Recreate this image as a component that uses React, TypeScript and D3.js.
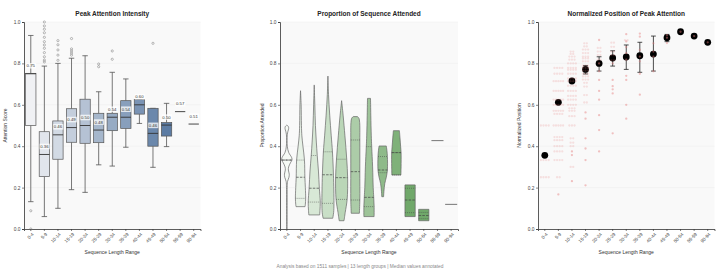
import React, { useEffect, useRef } from 'react';
import * as d3 from 'd3';

const groups = ['0-4', '5-9', '10-14', '15-19', '20-24', '25-29', '30-34', '35-39', '40-44', '45-49', '50-54', '55-59', '90-94'];
const yTicks = [0, 0.2, 0.4, 0.6, 0.8, 1.0];

// Peak attention intensity (box plot stats)
const boxQ1 = [0.50, 0.253, 0.337, 0.419, 0.414, 0.417, 0.475, 0.486, 0.555, 0.40, 0.449, 0.567, 0.507];
const boxMed = [0.75, 0.36, 0.455, 0.49, 0.50, 0.478, 0.54, 0.54, 0.60, 0.462, 0.502, 0.567, 0.507];
const boxQ3 = [0.752, 0.47, 0.522, 0.581, 0.627, 0.559, 0.559, 0.62, 0.625, 0.583, 0.514, 0.567, 0.507];
const whiskLo = [0.132, 0.06, 0.10, 0.19, 0.177, 0.31, 0.304, 0.395, 0.51, 0.298, 0.398, 0.567, 0.507];
const whiskHi = [0.935, 0.787, 0.80, 0.825, 0.837, 0.663, 0.757, 0.725, 0.625, 0.583, 0.607, 0.567, 0.507];
const outliers = [
  [0.088, 0.0],
  [1.0, 0.981, 0.965, 0.948, 0.926, 0.905, 0.889, 0.873, 0.852, 0.832, 0.816, 0.807],
  [0.91, 0.89, 0.865, 0.84, 0.815],
  [0.92, 0.87, 0.86, 0.85, 0.84],
  [],
  [0.797, 0.784],
  [0.86, 0.82],
  [],
  [],
  [0.897],
  [],
  [],
  [],
];

// Proportion attended (violin profiles: [value, relative half width])
const violins: [number, number][][] = [
  [[0.502, 0], [0.495, 0.25], [0.485, 0.3], [0.472, 0.18], [0.455, 0.07], [0.40, 0.08], [0.37, 0.3], [0.345, 0.8], [0.333, 0.85], [0.32, 0.6], [0.30, 0.3], [0.285, 0.25], [0.265, 0.4], [0.25, 0.35], [0.23, 0.12], [0.20, 0.06], [0.10, 0.05], [0.0, 0.04]],
  [[0.668, 0], [0.60, 0.1], [0.50, 0.15], [0.45, 0.22], [0.40, 0.4], [0.333, 0.65], [0.25, 0.72], [0.20, 0.8], [0.148, 0.85], [0.12, 0.8], [0.108, 0.75]],
  [[0.696, 0], [0.60, 0.1], [0.50, 0.2], [0.42, 0.35], [0.355, 0.5], [0.28, 0.7], [0.197, 0.85], [0.13, 1.0], [0.09, 0.95], [0.068, 0.9]],
  [[0.739, 0], [0.65, 0.1], [0.55, 0.3], [0.45, 0.55], [0.373, 0.75], [0.26, 0.92], [0.124, 1.0], [0.08, 0.95], [0.052, 0.8]],
  [[0.62, 0], [0.55, 0.25], [0.45, 0.55], [0.337, 0.85], [0.248, 1.0], [0.143, 0.92], [0.08, 0.6], [0.04, 0.4]],
  [[0.543, 0.35], [0.535, 0.6], [0.515, 0.72], [0.43, 0.75], [0.28, 0.75], [0.14, 0.75], [0.076, 0.68]],
  [[0.631, 0.25], [0.55, 0.3], [0.45, 0.38], [0.398, 0.45], [0.30, 0.6], [0.20, 0.7], [0.156, 0.78], [0.111, 0.85], [0.06, 0.85]],
  [[0.401, 0.6], [0.38, 0.7], [0.35, 0.78], [0.285, 0.78], [0.25, 0.6], [0.22, 0.35], [0.18, 0.2], [0.156, 0.15]],
  [[0.475, 0.5], [0.44, 0.6], [0.40, 0.7], [0.369, 0.78], [0.30, 0.78], [0.261, 0.75]],
  [[0.213, 0.85], [0.06, 0.85]],
  [[0.095, 0.85], [0.04, 0.85]],
  [[0.427, 1.0]],
  [[0.119, 1.0]],
];
const violinQ1 = [0.333, 0.148, 0.13, 0.124, 0.143, 0.14, 0.108, 0.272, 0.261, 0.079, 0.05, null, null];
const violinMed = [0.333, 0.25, 0.197, 0.262, 0.248, 0.277, 0.153, 0.285, 0.369, 0.14, 0.065, null, null];
const violinQ3 = [0.333, 0.333, 0.355, 0.373, 0.337, 0.43, 0.398, 0.35, 0.369, 0.197, 0.08, null, null];

// Normalized position of peak attention
const posMean = [0.356, 0.612, 0.715, 0.771, 0.80, 0.826, 0.831, 0.837, 0.845, 0.924, 0.953, 0.932, 0.902];
const posErrLo = [null, 0.607, 0.711, 0.749, 0.763, 0.787, 0.771, 0.757, 0.763, 0.905, null, null, null];
const posErrHi = [null, 0.617, 0.719, 0.79, 0.832, 0.861, 0.889, 0.902, 0.932, 0.94, null, null, null];
// observed positions: [value, count]
const posPoints: [number, number][][] = [
  [[0.5, 4], [0.333, 4], [0.25, 4]],
  [[0.778, 4], [0.75, 4], [0.714, 5], [0.667, 5], [0.625, 5], [0.6, 5], [0.571, 5], [0.556, 4], [0.5, 5], [0.444, 4], [0.429, 4], [0.4, 4], [0.375, 4], [0.333, 4], [0.25, 2], [0.167, 1]],
  [[0.857, 2], [0.846, 2], [0.833, 3], [0.818, 3], [0.8, 4], [0.778, 4], [0.769, 4], [0.75, 4], [0.727, 4], [0.714, 4], [0.692, 4], [0.667, 4], [0.643, 4], [0.625, 4], [0.6, 4], [0.583, 3], [0.571, 3], [0.545, 3], [0.5, 3], [0.438, 2], [0.417, 2], [0.4, 2], [0.375, 1], [0.357, 1], [0.3, 2], [0.231, 1]],
  [[0.897, 2], [0.882, 2], [0.867, 3], [0.85, 3], [0.833, 3], [0.824, 3], [0.81, 3], [0.789, 3], [0.778, 3], [0.765, 3], [0.75, 3], [0.737, 3], [0.722, 3], [0.706, 2], [0.688, 2], [0.647, 2], [0.611, 2], [0.563, 1], [0.533, 1], [0.438, 1], [0.389, 1], [0.333, 1], [0.211, 1]],
  [[0.913, 1], [0.875, 2], [0.857, 2], [0.84, 2], [0.818, 2], [0.8, 1], [0.762, 1], [0.72, 1], [0.667, 1], [0.625, 1], [0.55, 1], [0.478, 1], [0.375, 1]],
  [[0.9, 2], [0.88, 2], [0.857, 2], [0.84, 2], [0.815, 2], [0.8, 1], [0.72, 1], [0.69, 1], [0.675, 1], [0.655, 1], [0.462, 1]],
  [[0.941, 1], [0.912, 2], [0.906, 1], [0.879, 1], [0.85, 1], [0.818, 1], [0.74, 1], [0.72, 1], [0.6, 1], [0.533, 1]],
  [[0.944, 1], [0.929, 1], [0.865, 1], [0.833, 1], [0.81, 1], [0.75, 1], [0.649, 1]],
  [[0.897, 1], [0.857, 1], [0.833, 1], [0.762, 1]],
  [[0.937, 1], [0.924, 1], [0.898, 1]],
  [[0.953, 1]],
  [[0.932, 1]],
  [[0.902, 1]],
];

const FONT = "'Liberation Sans', Arial, Helvetica, sans-serif";

export default function App() {
  const svgRef = useRef<SVGSVGElement>(null);

  useEffect(() => {
    if (!svgRef.current) return;
    const svg = d3.select(svgRef.current);
    svg.selectAll('*').remove();

    const W = 718, H = 271;
    const top = 22, bottom = 229;
    const y = d3.scaleLinear().domain([0, 1]).range([bottom, top]);

    svg.append('rect').attr('width', W).attr('height', H).attr('fill', '#fff');

    const panel = (x0: number, x1: number, title: string, yLabel: string, yLabelX: number) => {
      const x = d3.scaleBand<string>().domain(groups).range([x0, x1]);
      const g = svg.append('g');

      g.append('rect')
        .attr('x', x0).attr('y', top)
        .attr('width', x1 - x0).attr('height', bottom - top)
        .attr('fill', '#f9f9f9');

      g.selectAll('.grid')
        .data(yTicks.slice(1))
        .enter()
        .append('line')
        .attr('x1', x0).attr('x2', x1)
        .attr('y1', d => y(d)).attr('y2', d => y(d))
        .attr('stroke', '#ececec')
        .attr('stroke-width', 0.5);

      const yAxis = g.append('g')
        .attr('transform', `translate(${x0},0)`)
        .call(d3.axisLeft(y).tickValues(yTicks).tickFormat(d3.format('.1f')).tickSize(2).tickPadding(1.5));
      yAxis.selectAll('text').attr('font-size', 4.8).attr('fill', '#444').attr('font-family', FONT);

      const xAxis = g.append('g')
        .attr('transform', `translate(0,${bottom})`)
        .call(d3.axisBottom(x).tickSize(2));
      xAxis.selectAll('text')
        .attr('x', 0).attr('y', 0).attr('dy', '0.35em')
        .attr('transform', 'translate(2,4.5) rotate(-45)')
        .attr('text-anchor', 'end')
        .attr('font-size', 4.6).attr('fill', '#444').attr('font-family', FONT);

      [yAxis, xAxis].forEach(a => {
        a.select('.domain').attr('stroke', '#333').attr('stroke-width', 0.8);
        a.selectAll('.tick line').attr('stroke', '#333').attr('stroke-width', 0.6);
      });

      g.append('text')
        .attr('x', (x0 + x1) / 2).attr('y', 16)
        .attr('text-anchor', 'middle')
        .attr('font-family', FONT).attr('font-weight', 'bold')
        .attr('font-size', 6.5).attr('fill', '#222')
        .attr('opacity', 0.99)
        .text(title);

      g.append('text')
        .attr('x', (x0 + x1) / 2).attr('y', 254)
        .attr('text-anchor', 'middle')
        .attr('font-family', FONT).attr('font-size', 5).attr('fill', '#333')
        .text('Sequence Length Range');

      g.append('text')
        .attr('transform', `translate(${yLabelX},${(top + bottom) / 2}) rotate(-90)`)
        .attr('text-anchor', 'middle')
        .attr('font-family', FONT).attr('font-size', 5).attr('fill', '#333')
        .text(yLabel);

      return { g, x };
    };

    // Panel 1: box plot
    {
      const { g, x } = panel(24, 200.5, 'Peak Attention Intensity', 'Attention Score', 7.3);
      const bw = x.bandwidth();
      const boxW = bw * 0.76;
      const color = d3.interpolateRgb('#f0f1f4', '#5c7ca4');

      groups.forEach((grp, i) => {
        const cx = x(grp)! + bw / 2;
        const gg = g.append('g');

        // whiskers
        gg.append('line')
          .attr('x1', cx).attr('x2', cx)
          .attr('y1', y(whiskLo[i])).attr('y2', y(boxQ1[i]))
          .attr('stroke', '#555').attr('stroke-width', 0.8);
        gg.append('line')
          .attr('x1', cx).attr('x2', cx)
          .attr('y1', y(boxQ3[i])).attr('y2', y(whiskHi[i]))
          .attr('stroke', '#555').attr('stroke-width', 0.8);
        [whiskLo[i], whiskHi[i]].forEach(v => {
          if (boxQ1[i] === boxQ3[i]) return;
          gg.append('line')
            .attr('x1', cx - bw * 0.2).attr('x2', cx + bw * 0.2)
            .attr('y1', y(v)).attr('y2', y(v))
            .attr('stroke', '#555').attr('stroke-width', 0.8);
        });

        // box
        gg.append('rect')
          .attr('x', cx - boxW / 2)
          .attr('y', y(boxQ3[i]))
          .attr('width', boxW)
          .attr('height', Math.max(0, y(boxQ1[i]) - y(boxQ3[i])))
          .attr('fill', color(Math.min(1, i / 10)))
          .attr('stroke', '#555')
          .attr('stroke-width', 0.7);

        // median
        gg.append('line')
          .attr('x1', cx - boxW / 2).attr('x2', cx + boxW / 2)
          .attr('y1', y(boxMed[i])).attr('y2', y(boxMed[i]))
          .attr('stroke', '#333').attr('stroke-width', 0.9);

        // outliers
        gg.selectAll('.outlier')
          .data(outliers[i])
          .enter()
          .append('circle')
          .attr('cx', cx)
          .attr('cy', d => y(d))
          .attr('r', 1.1)
          .attr('fill', 'none')
          .attr('stroke', '#777')
          .attr('stroke-width', 0.5);

        // median label
        const ly = y(boxMed[i]) - 8;
        const bg = gg.append('rect');
        const t = gg.append('text')
          .attr('x', cx).attr('y', ly)
          .attr('dy', '0.35em')
          .attr('text-anchor', 'middle')
          .attr('font-family', FONT).attr('font-size', 4.3).attr('fill', '#333')
          .text(boxMed[i].toFixed(2));
        const bb = (t.node() as SVGTextElement).getBBox();
        bg.attr('x', bb.x - 0.6).attr('y', bb.y - 0.3)
          .attr('width', bb.width + 1.2).attr('height', bb.height + 0.6)
          .attr('fill', '#fff').attr('opacity', 0.75);
      });
    }

    // Panel 2: violins
    {
      const { g, x } = panel(280, 458, 'Proportion of Sequence Attended', 'Proportion Attended', 264);
      const bw = x.bandwidth();
      const wScale = d3.scaleLinear().domain([0, 1]).range([0, bw * 0.44]);
      const color = d3.interpolateRgb('#f6faf5', '#70a86a');

      const halfAt = (prof: [number, number][], v: number) => {
        for (let k = 0; k < prof.length - 1; k++) {
          const [va, wa] = prof[k];
          const [vb, wb] = prof[k + 1];
          if (v <= va && v >= vb) {
            const t = va === vb ? 0 : (va - v) / (va - vb);
            return wa + (wb - wa) * t;
          }
        }
        return prof[prof.length - 1][1];
      };

      groups.forEach((grp, i) => {
        const cx = x(grp)! + bw / 2;
        const prof = violins[i];

        if (prof.length === 1) {
          g.append('line')
            .attr('x1', cx - wScale(prof[0][1])).attr('x2', cx + wScale(prof[0][1]))
            .attr('y1', y(prof[0][0])).attr('y2', y(prof[0][0]))
            .attr('stroke', '#555').attr('stroke-width', 0.8);
          return;
        }

        const area = d3.area<[number, number]>()
          .y(d => y(d[0]))
          .x0(d => cx - wScale(d[1]))
          .x1(d => cx + wScale(d[1]))
          .curve(prof.length > 2 ? d3.curveCatmullRom : d3.curveLinear);

        g.append('path')
          .attr('d', area(prof)!)
          .attr('fill', color(Math.min(1, i / 9)))
          .attr('stroke', '#666')
          .attr('stroke-width', 0.7);

        const lines: [number | null, string, number][] = [
          [violinQ1[i], '1,1', 0.5],
          [violinMed[i], '2.5,1.2', 0.7],
          [violinQ3[i], '1,1', 0.5],
        ];
        lines.forEach(([v, dash, sw]) => {
          if (v == null) return;
          const hw = wScale(halfAt(prof, v));
          g.append('line')
            .attr('x1', cx - hw).attr('x2', cx + hw)
            .attr('y1', y(v)).attr('y2', y(v))
            .attr('stroke', '#444')
            .attr('stroke-width', sw)
            .attr('stroke-dasharray', dash);
        });
      });
    }

    // Panel 3: normalized position
    {
      const { g, x } = panel(538, 714.5, 'Normalized Position of Peak Attention', 'Normalized Position', 520.7);
      const bw = x.bandwidth();

      groups.forEach((grp, i) => {
        const cx = x(grp)! + bw / 2;
        const lo = posErrLo[i], hi = posErrHi[i];
        if (lo != null && hi != null) {
          g.append('line')
            .attr('x1', cx).attr('x2', cx)
            .attr('y1', y(lo)).attr('y2', y(hi))
            .attr('stroke', '#222').attr('stroke-width', 0.8);
          [lo, hi].forEach(v => {
            g.append('line')
              .attr('x1', cx - 2.4).attr('x2', cx + 2.4)
              .attr('y1', y(v)).attr('y2', y(v))
              .attr('stroke', '#222').attr('stroke-width', 0.8);
          });
        }
        g.append('circle')
          .attr('cx', cx).attr('cy', y(posMean[i]))
          .attr('r', 3.4)
          .attr('fill', '#000');
      });

      groups.forEach((grp, i) => {
        const cx = x(grp)! + bw / 2;
        posPoints[i].forEach(([v, n]) => {
          const spacing = n > 1 ? Math.min(2.6, (bw * 0.7) / (n - 1)) : 0;
          d3.range(n).forEach(k => {
            g.append('circle')
              .attr('cx', cx + (k - (n - 1) / 2) * spacing)
              .attr('cy', y(v))
              .attr('r', 1.15)
              .attr('fill', '#e57a7a')
              .attr('opacity', n > 1 ? 0.2 : 0.45);
          });
        });
      });
    }

    svg.append('text')
      .attr('x', 360).attr('y', 268)
      .attr('text-anchor', 'middle')
      .attr('font-family', FONT).attr('font-size', 4.8).attr('fill', '#888')
      .text('Analysis based on 1511 samples | 13 length groups | Median values annotated');
  }, []);

  return (
    <svg
      ref={svgRef}
      width={718}
      height={271}
      style={{ position: 'absolute', left: 0, top: 0, display: 'block' }}
    />
  );
}
